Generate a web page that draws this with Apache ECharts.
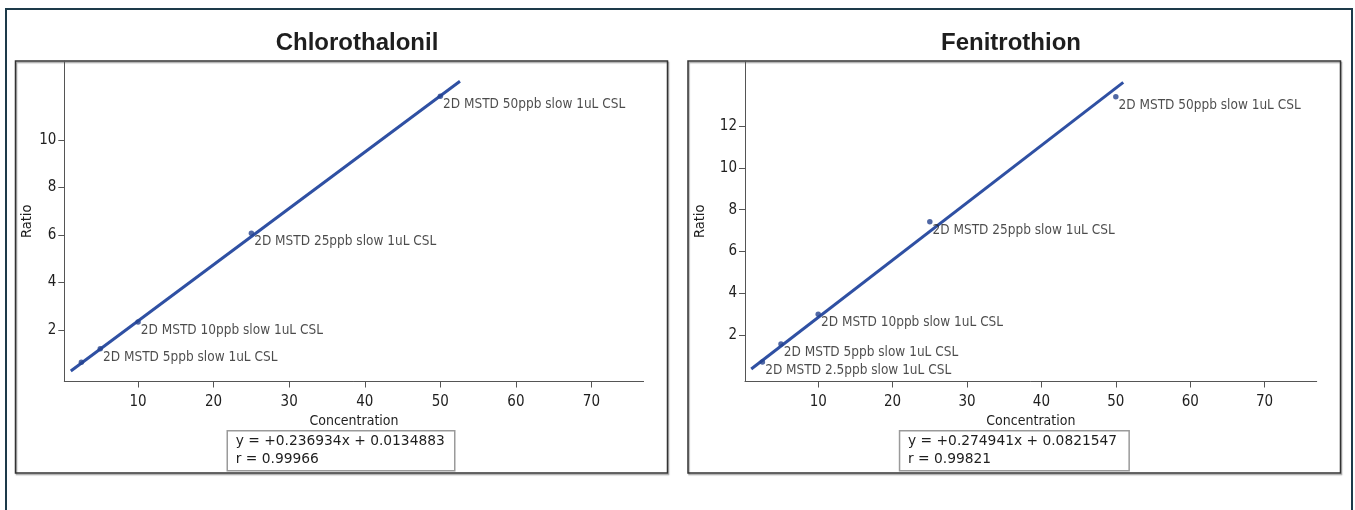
<!DOCTYPE html>
<html>
<head>
<meta charset="utf-8">
<script src="https://cdn.jsdelivr.net/npm/echarts@6/dist/echarts.min.js"></script>
<style>
html,body{margin:0;padding:0;background:#fff;}
#chart{width:1355px;height:510px;}
</style>
</head>
<body>
<div id="chart"></div>
<script>
// ---- data ----
const titles = ['Chlorothalonil', 'Fenitrothion'];
const concentrations = [2.5, 5, 10, 25, 50];
const chloroRatio = [0.64, 1.21, 2.34, 6.07, 11.85];
const feniRatio = [0.70, 1.56, 2.98, 7.42, 13.42];
const chloroLabels = ['', '2D MSTD 5ppb slow 1uL CSL', '2D MSTD 10ppb slow 1uL CSL', '2D MSTD 25ppb slow 1uL CSL', '2D MSTD 50ppb slow 1uL CSL'];
const feniLabels = ['2D MSTD 2.5ppb slow 1uL CSL', '2D MSTD 5ppb slow 1uL CSL', '2D MSTD 10ppb slow 1uL CSL', '2D MSTD 25ppb slow 1uL CSL', '2D MSTD 50ppb slow 1uL CSL'];
const chloroFit = {slope: 0.236934, intercept: 0.0134883, r: '0.99966', slopeText: '0.236934', interceptText: '0.0134883'};
const feniFit = {slope: 0.274941, intercept: 0.0821547, r: '0.99821', slopeText: '0.274941', interceptText: '0.0821547'};
const chloroFitX = [1.1, 52.6];
const feniFitX = [1.0, 51.0];
const xTicks = [10, 20, 30, 40, 50, 60, 70];
const chloroYTicks = [2, 4, 6, 8, 10];
const feniYTicks = [2, 4, 6, 8, 10, 12];
const xAxisName = 'Concentration';
const yAxisName = 'Ratio';

// ---- chart ----
const chart = echarts.init(document.getElementById('chart'));
const lineColor = '#2f50a3';
const dotColor = '#24428f';
const axisColor = '#555';
const textColor = '#1e1e1e';
const labelFont = '"DejaVu Sans Condensed", "DejaVu Sans", sans-serif';

function pts(xs, ys, labels) {
  return xs.map((x, i) => ({value: [x, ys[i]], label: {formatter: labels[i]}}));
}
function fitLine(xr, fit) {
  return xr.map(x => [x, fit.slope * x + fit.intercept]);
}
function xAx(gi, min, max) {
  return {
    gridIndex: gi, type: 'value', min: min, max: max,
    name: xAxisName, nameLocation: 'middle', nameGap: 33,
    nameTextStyle: {fontFamily: labelFont, fontSize: 14, color: textColor},
    axisLine: {show: true, onZero: false, lineStyle: {color: axisColor, width: 1}},
    axisTick: {show: true, length: 6, lineStyle: {color: axisColor}, customValues: xTicks},
    axisLabel: {show: true, margin: 13, fontFamily: labelFont, fontSize: 15, color: textColor, customValues: xTicks},
    splitLine: {show: false}
  };
}
function yAx(gi, min, max, ticks, gap) {
  return {
    gridIndex: gi, type: 'value', min: min, max: max,
    name: yAxisName, nameLocation: 'middle', nameGap: gap, nameRotate: 90,
    nameTextStyle: {fontFamily: labelFont, fontSize: 14.5, color: textColor},
    axisLine: {show: true, onZero: false, lineStyle: {color: axisColor, width: 1}},
    axisTick: {show: true, length: 6, lineStyle: {color: axisColor}, customValues: ticks},
    axisLabel: {show: true, margin: 8, fontFamily: labelFont, fontSize: 15, color: textColor, customValues: ticks},
    splitLine: {show: false}
  };
}
function scatterSeries(i, ys, labels) {
  return {
    type: 'scatter', xAxisIndex: i, yAxisIndex: i, z: 5,
    symbol: 'circle', symbolSize: 5.5,
    itemStyle: {color: dotColor},
    label: {show: true, position: 'right', distance: 0, offset: [0, 8.5],
      fontFamily: labelFont, fontSize: 13.5, color: textColor},
    data: pts(concentrations, ys, labels)
  };
}
function lineSeries(i, xr, fit) {
  return {
    type: 'line', xAxisIndex: i, yAxisIndex: i, z: 3,
    showSymbol: false, silent: true,
    lineStyle: {color: lineColor, width: 3},
    data: fitLine(xr, fit)
  };
}
function eqBox(x, w, fit) {
  return {
    type: 'group', left: x, top: 430,
    children: [
      {type: 'rect', shape: {x: 0, y: 0, width: w, height: 40},
        style: {fill: '#fff', stroke: '#9a9a9a', lineWidth: 1.5}},
      {type: 'text', x: 8.5, y: 11, style: {text: 'y = +' + fit.slopeText + 'x + ' + fit.interceptText,
        font: '13.8px "DejaVu Sans", sans-serif', fill: textColor, verticalAlign: 'middle'}},
      {type: 'text', x: 8.5, y: 29, style: {text: 'r = ' + fit.r,
        font: '13.8px "DejaVu Sans", sans-serif', fill: textColor, verticalAlign: 'middle'}}
    ]
  };
}

const option = {
  backgroundColor: '#fff',
  animation: false,
  title: [
    {text: titles[0], left: 352, top: 26, textAlign: 'center',
      textStyle: {fontFamily: '"Liberation Sans", Arial, sans-serif', fontWeight: 'bold', fontSize: 24, color: textColor}},
    {text: titles[1], left: 1006, top: 26, textAlign: 'center',
      textStyle: {fontFamily: '"Liberation Sans", Arial, sans-serif', fontWeight: 'bold', fontSize: 24, color: textColor}}
  ],
  grid: [
    {left: 64.3, right: 1355 - 643.6, top: 61, bottom: 510 - 381.5},
    {left: 745, right: 1355 - 1316.7, top: 61, bottom: 510 - 381.5}
  ],
  xAxis: [xAx(0, 0.24, 76.9), xAx(1, 0.16, 77.0)],
  yAxis: [yAx(0, -0.17, 13.33, chloroYTicks, 29), yAx(1, -0.24, 15.13, feniYTicks, 37)],
  series: [
    lineSeries(0, chloroFitX, chloroFit),
    scatterSeries(0, chloroRatio, chloroLabels),
    lineSeries(1, feniFitX, feniFit),
    scatterSeries(1, feniRatio, feniLabels)
  ],
  graphic: [
    {type: 'rect', z: -10, shape: {x: 6, y: 9, width: 1346, height: 530},
      style: {fill: 'none', stroke: '#1d3a4a', lineWidth: 2}},
    {type: 'rect', z: -5, shape: {x: 15.5, y: 61, width: 652, height: 412},
      style: {fill: 'none', stroke: '#333', lineWidth: 1.5, shadowColor: 'rgba(0,0,0,0.35)', shadowOffsetX: 1, shadowOffsetY: 1.5, shadowBlur: 1}},
    {type: 'rect', z: -5, shape: {x: 688, y: 61, width: 652.5, height: 412},
      style: {fill: 'none', stroke: '#333', lineWidth: 1.5, shadowColor: 'rgba(0,0,0,0.35)', shadowOffsetX: 1, shadowOffsetY: 1.5, shadowBlur: 1}},
    eqBox(226.5, 227.5, chloroFit),
    eqBox(898.8, 229.6, feniFit)
  ]
};
chart.setOption(option);
</script>
</body>
</html>
